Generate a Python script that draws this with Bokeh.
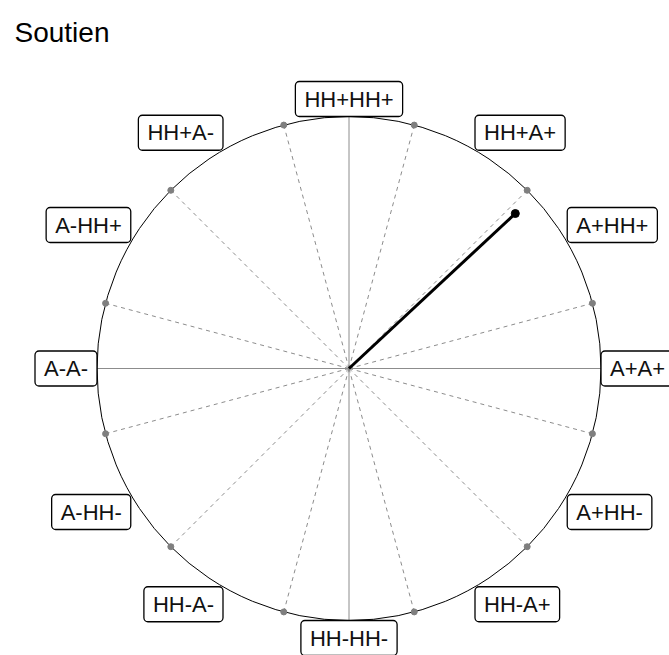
import numpy as np
from bokeh.plotting import figure
from bokeh.models import Range1d, Label, ColumnDataSource
from bokeh.embed import file_html
from bokeh.resources import INLINE
from bokeh.core.properties import value

# ---- data ----
title_text = "Soutien"
label_angles = [0, 30, 60, 90, 120, 150, 180, 210, 240, 270, 300, 330]
label_texts = ["A+A+", "A+HH+", "HH+A+", "HH+HH+", "HH+A-", "A-HH+",
               "A-A-", "A-HH-", "HH-A-", "HH-HH-", "HH-A+", "A+HH-"]
sector_angles = [15, 45, 75, 105, 135, 165, 195, 225, 255, 285, 315, 345]
vec_x = [0.66]
vec_y = [0.615]

# ---- layout ----
W, H = 669, 655
scale = 252.0
cx, cy = 348.5, 368.0
x_range = Range1d(-cx / scale, (W - cx) / scale)
y_range = Range1d(-(H - cy) / scale, cy / scale)

p = figure(width=W, height=H, x_range=x_range, y_range=y_range,
           output_backend="svg", toolbar_location=None, min_border=0)
p.axis.visible = False
p.grid.visible = False
p.outline_line_color = None
p.background_fill_color = "white"

# axes (solid gray)
p.segment(x0=[-1, 0], y0=[0, -1], x1=[1, 0], y1=[0, 1],
          line_color="#8c8c8c", line_width=1)

# dashed sector lines
sa = np.radians(sector_angles)
sx = np.cos(sa)
sy = np.sin(sa)
p.segment(x0=np.zeros(len(sx)), y0=np.zeros(len(sy)), x1=sx, y1=sy,
          line_color="#8c8c8c", line_width=1, line_dash="4 4")

# circle
p.circle(x=[0], y=[0], radius=1, fill_color=None, line_color="black", line_width=1)

# sector points
p.scatter(sx, sy, size=6, color="#7f7f7f")

# vector
p.segment(x0=[0], y0=[0], x1=vec_x, y1=vec_y, line_color="black", line_width=3)
p.scatter(vec_x, vec_y, size=8, color="black")

# labels
def anchor_for(a):
    a = a % 360
    if a == 0:
        return "center_left"
    if a == 90:
        return "bottom_center"
    if a == 180:
        return "center_right"
    if a == 270:
        return "top_center"
    v = "bottom" if a < 180 else "top"
    h = "left" if (a < 90 or a > 270) else "right"
    return f"{v}_{h}"

la = np.radians(label_angles)
src = ColumnDataSource(dict(x=np.cos(la), y=np.sin(la), text=label_texts,
                            anchor=[anchor_for(a) for a in label_angles]))
p.text(x="x", y="y", text="text", anchor="anchor", source=src,
       text_font=value("Liberation Sans"), text_font_size="22px",
       text_color="#111111",
       background_fill_color="white", border_line_color="black",
       border_line_width=1.3, border_radius=4, padding=dict(x=9, y=5))

# title
p.add_layout(Label(x=14, y=H - 32, x_units="screen", y_units="screen",
                   text=title_text, text_font="Liberation Sans",
                   text_font_size="28px", text_color="black",
                   text_baseline="alphabetic", text_align="left"))

open("out.html", "w").write(file_html(p, INLINE))
